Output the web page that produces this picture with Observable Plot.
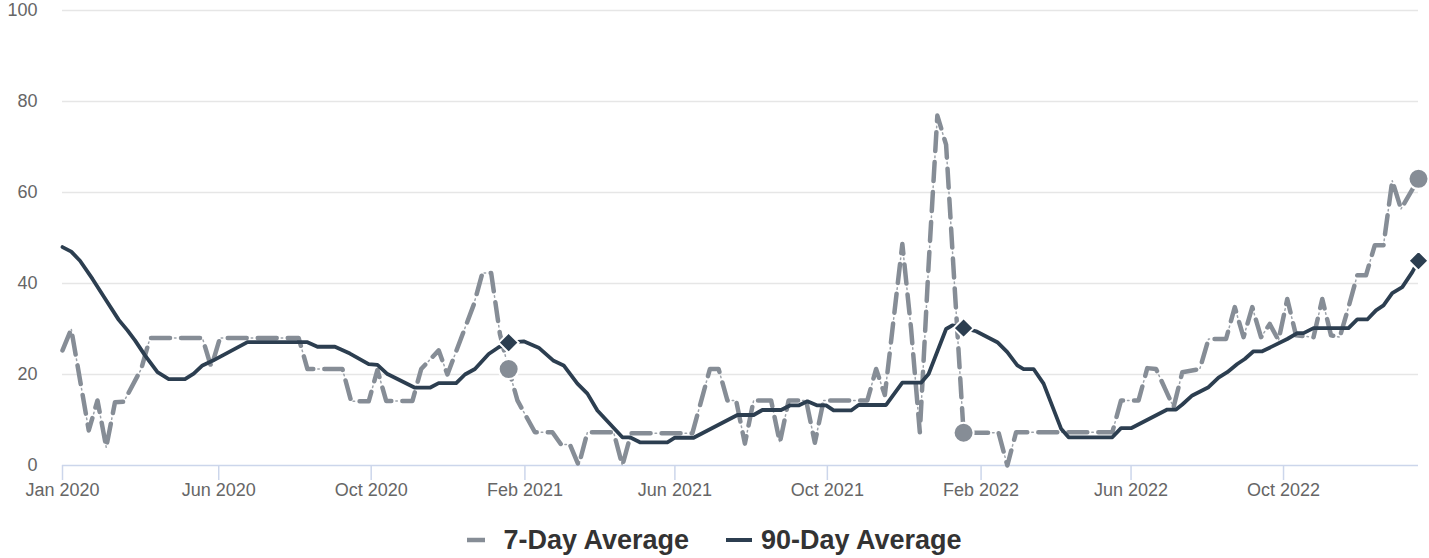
<!DOCTYPE html>
<html>
<head>
<meta charset="utf-8">
<script src="https://cdn.jsdelivr.net/npm/d3@7"></script>
<script src="https://cdn.jsdelivr.net/npm/@observablehq/plot@0.6"></script>
<style>
  html, body { margin: 0; padding: 0; background: #fff; }
  body { width: 1429px; font-family: "Liberation Sans", Arial, sans-serif; }
  #legend { display: flex; justify-content: center; align-items: center; margin-top: 15px; line-height: 30px;
            font-size: 27px; font-weight: bold; color: #333; }
  .item { display: flex; align-items: center; }
  .item svg { display: block; }
</style>
</head>
<body>
<div id="chart"></div>
<div id="legend"></div>
<script>
// ---- data ----
const dates7 = ["2020-01-28","2020-02-04","2020-02-18","2020-02-25","2020-03-03","2020-03-10","2020-03-17","2020-03-31","2020-04-07","2020-05-19","2020-05-26","2020-06-02","2020-08-04","2020-08-11","2020-09-08","2020-09-15","2020-09-29","2020-10-06","2020-10-13","2020-11-03","2020-11-10","2020-11-24","2020-12-01","2020-12-22","2020-12-29","2021-01-05","2021-01-12","2021-01-19","2021-01-26","2021-02-09","2021-02-23","2021-03-02","2021-03-09","2021-03-16","2021-03-23","2021-04-13","2021-04-20","2021-04-27","2021-06-15","2021-06-29","2021-07-06","2021-07-13","2021-07-20","2021-07-27","2021-08-03","2021-08-17","2021-08-24","2021-08-31","2021-09-14","2021-09-21","2021-09-28","2021-11-02","2021-11-09","2021-11-16","2021-11-30","2021-12-07","2021-12-14","2021-12-21","2021-12-28","2022-01-04","2022-01-11","2022-01-18","2022-02-15","2022-02-22","2022-03-01","2022-05-17","2022-05-24","2022-06-07","2022-06-14","2022-06-21","2022-06-28","2022-07-05","2022-07-12","2022-07-26","2022-08-02","2022-08-16","2022-08-23","2022-08-30","2022-09-06","2022-09-13","2022-09-20","2022-09-27","2022-10-04","2022-10-11","2022-10-25","2022-11-01","2022-11-08","2022-11-15","2022-11-22","2022-11-29","2022-12-06","2022-12-13","2022-12-20","2022-12-27","2023-01-03","2023-01-17"];
const avg7 = [25.3,30,7.7,14.3,4,13.9,14,21.2,28,28,21.6,28,28,21.2,21.2,14.1,14.1,21,14.2,14.2,21.2,25.3,20,35.3,42.3,42.3,28.9,21.2,14.3,7.3,7.3,4.6,4.6,0,7.3,7.3,0,7.1,7.1,21.2,21.2,14.3,14.3,4.8,14.3,14.3,5,14.3,14.3,5,14.3,14.3,21.2,15.5,48.7,30,7.3,44,76.9,70.5,38.5,7.2,7.2,0,7.3,7.3,14.3,14.3,21.4,21.2,17,12.8,20.5,21.2,27.8,27.8,34.8,28.2,34.8,28.2,31.1,27.5,36.6,28.6,28.2,36.6,28.6,28.2,34.8,41.8,41.8,48.4,48.4,62.6,56.4,63];

const dates90 = ["2020-01-28","2020-02-04","2020-02-11","2020-02-21","2020-03-02","2020-03-13","2020-03-20","2020-03-26","2020-04-03","2020-04-13","2020-04-22","2020-05-05","2020-05-12","2020-05-19","2020-05-27","2020-06-24","2020-08-11","2020-08-19","2020-09-02","2020-09-14","2020-09-29","2020-10-06","2020-10-14","2020-11-05","2020-11-17","2020-11-24","2020-12-08","2020-12-15","2020-12-23","2021-01-03","2021-01-11","2021-01-19","2021-01-31","2021-02-12","2021-02-24","2021-03-04","2021-03-15","2021-03-23","2021-03-31","2021-04-20","2021-04-26","2021-05-04","2021-05-26","2021-06-01","2021-06-16","2021-07-21","2021-08-03","2021-08-10","2021-08-25","2021-09-01","2021-09-08","2021-09-15","2021-09-23","2021-09-30","2021-10-06","2021-10-20","2021-10-26","2021-11-17","2021-11-30","2021-12-15","2021-12-21","2022-01-04","2022-01-09","2022-01-18","2022-01-28","2022-02-14","2022-02-22","2022-03-02","2022-03-07","2022-03-15","2022-03-23","2022-04-06","2022-04-12","2022-05-17","2022-05-24","2022-06-01","2022-06-30","2022-07-07","2022-07-12","2022-07-20","2022-08-02","2022-08-10","2022-08-17","2022-08-25","2022-08-31","2022-09-07","2022-09-14","2022-10-04","2022-10-12","2022-10-17","2022-10-25","2022-11-22","2022-11-29","2022-12-07","2022-12-14","2022-12-20","2022-12-27","2023-01-04","2023-01-12","2023-01-17"];
const avg90 = [48,47,45,41,36.7,32,29.7,27.5,24.2,20.5,19,19,20.2,22,23,27.1,27.1,26.1,26.1,24.6,22.3,22.1,20.1,17.1,17.1,18.1,18.1,20,21.2,24.5,26,27,27.3,25.9,23,22,18,15.8,12.1,6.2,6.2,5.1,5.1,6.1,6.1,11.1,11.1,12.2,12.2,13.2,13.2,14.1,13.2,13.2,12.1,12.1,13.3,13.3,18.2,18.2,20.1,30,30.8,30.2,29.5,27.1,24.9,22,21.2,21.2,18,8.1,6.2,6.2,8.2,8.2,12.3,12.3,13.4,15.4,17.2,19.3,20.5,22.3,23.4,25.1,25.1,27.8,29.1,29.1,30.2,30.2,32.1,32.1,34.1,35.2,37.9,39.2,42.5,45];

const markerDates = ["2021-01-19","2022-01-18","2023-01-17"];
const marker7 = [21.2, 7.2, 63];
const marker90 = [27, 30.2, 45];

const xTickDates = ["2020-01-28","2020-06-01","2020-10-01","2021-02-01","2021-06-01","2021-10-01","2022-02-01","2022-06-01","2022-10-01"];
const xTickLabels = ["Jan 2020","Jun 2020","Oct 2020","Feb 2021","Jun 2021","Oct 2021","Feb 2022","Jun 2022","Oct 2022"];
const yTicks = [0, 20, 40, 60, 80, 100];
const seriesNames = ["7-Day Average", "90-Day Average"];

const xDomain = ["2020-01-28", "2023-01-17"];
// ---- end data ----

const GRAY = "#868d96";
const DARK = "#2c3e50";
const parse = s => new Date(s + "T00:00:00Z");

const s7 = dates7.map((d, i) => ({date: parse(d), value: avg7[i]}));
const s90 = dates90.map((d, i) => ({date: parse(d), value: avg90[i]}));
const m7 = markerDates.map((d, i) => ({date: parse(d), value: marker7[i]}));
const m90 = markerDates.map((d, i) => ({date: parse(d), value: marker90[i]}));
const tickDates = xTickDates.map(parse);
const labelOf = new Map(tickDates.map((d, i) => [+d, xTickLabels[i]]));

const chart = Plot.plot({
  width: 1429,
  height: 510,
  marginLeft: 62,
  marginRight: 11,
  marginTop: 10,
  marginBottom: 45,
  style: {fontFamily: "'Liberation Sans', Arial, sans-serif", fontSize: "18px", background: "#fff", overflow: "visible"},
  x: {type: "utc", domain: xDomain.map(parse)},
  y: {domain: [0, 100]},
  marks: [
    Plot.gridY(yTicks.filter(t => t > 0), {stroke: "#e6e6e6", strokeOpacity: 1, strokeWidth: 1.5}),
    Plot.ruleY([0], {stroke: "#ccd6eb", strokeWidth: 1.5}),
    Plot.axisY(yTicks, {tickSize: 0, tickPadding: 25, fill: "#666", fontSize: 18, label: null}),
    Plot.axisX(tickDates, {tickSize: 15, tickPadding: 3, stroke: "#ccd6eb", strokeWidth: 1.5, fill: "#666", fontSize: 18,
      tickFormat: d => labelOf.get(+d), label: null}),
    Plot.line(s7, {x: "date", y: "value", stroke: GRAY, strokeWidth: 1.5, strokeDasharray: "1.5,28.5", strokeDashoffset: -23.5, strokeOpacity: 0.8}),
    Plot.line(s7, {x: "date", y: "value", stroke: GRAY, strokeWidth: 4.5, strokeDasharray: "19,11", strokeLinejoin: "round"}),
    Plot.line(s90, {x: "date", y: "value", stroke: DARK, strokeWidth: 3.8, strokeLinejoin: "round", strokeLinecap: "round"}),
    Plot.dot(m7, {x: "date", y: "value", r: 10, fill: GRAY, stroke: "#fff", strokeWidth: 2}),
    Plot.dot(m90, {x: "date", y: "value", r: 9, symbol: "diamond2", fill: DARK, stroke: "#fff", strokeWidth: 2})
  ]
});
document.getElementById("chart").appendChild(chart);

// legend
const legend = document.getElementById("legend");
const symbols = [
  `<svg width="26" height="26"><line x1="0" x2="26" y1="13" y2="13" stroke="${GRAY}" stroke-width="4.5" stroke-dasharray="18,12"/></svg>`,
  `<svg width="26" height="26"><line x1="0" x2="26" y1="13" y2="13" stroke="${DARK}" stroke-width="4"/></svg>`
];
seriesNames.forEach((name, i) => {
  const item = document.createElement("div");
  item.className = "item";
  item.style.marginLeft = i ? "37px" : "0";
  item.innerHTML = symbols[i] + `<span style="margin-left:${i ? 9 : 10}px">${name}</span>`;
  legend.appendChild(item);
});
</script>
</body>
</html>
